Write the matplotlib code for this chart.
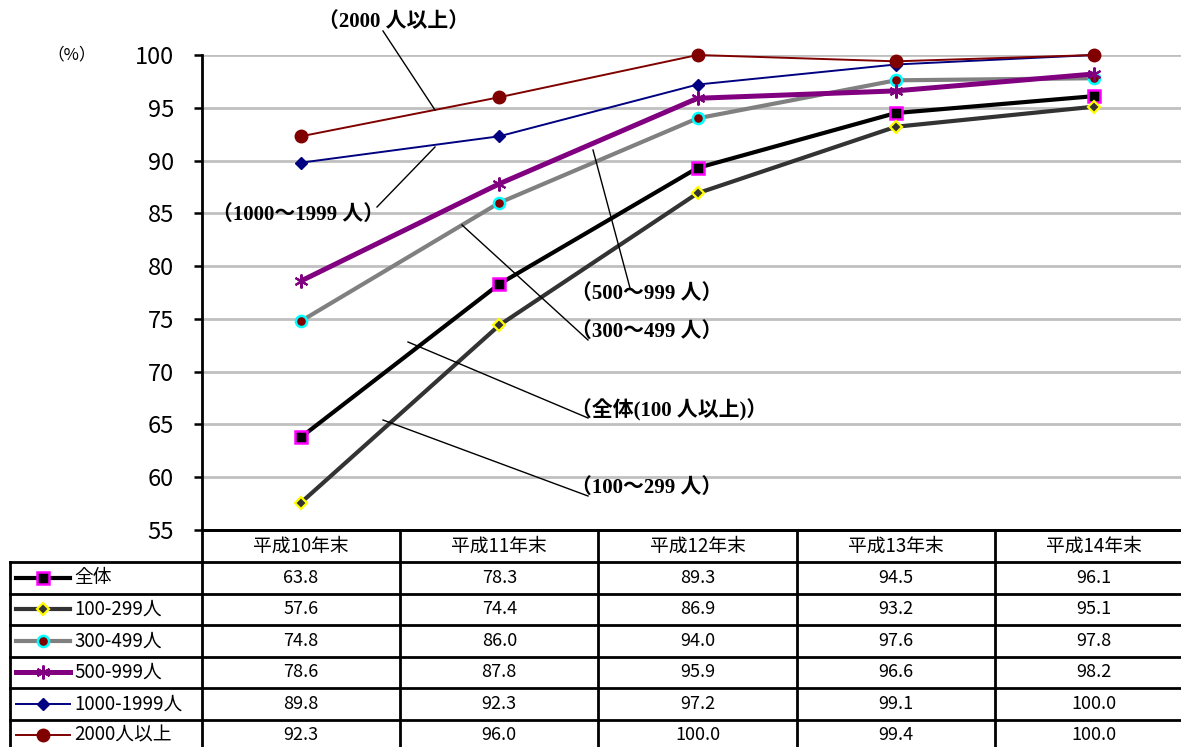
import matplotlib
matplotlib.use('Agg')
import matplotlib.pyplot as plt
import matplotlib.transforms as mtrans

plt.rcParams['font.family'] = ['Noto Sans CJK JP', 'DejaVu Sans']

# ---- data ----
years = ['平成10年末', '平成11年末', '平成12年末', '平成13年末', '平成14年末']
names = ['全体', '100-299人', '300-499人', '500-999人', '1000-1999人', '2000人以上']
zentai = [63.8, 78.3, 89.3, 94.5, 96.1]
s100 = [57.6, 74.4, 86.9, 93.2, 95.1]
s300 = [74.8, 86.0, 94.0, 97.6, 97.8]
s500 = [78.6, 87.8, 95.9, 96.6, 98.2]
s1000 = [89.8, 92.3, 97.2, 99.1, 100.0]
s2000 = [92.3, 96.0, 100.0, 99.4, 100.0]
series = [zentai, s100, s300, s500, s1000, s2000]

styles = [
    dict(color='black', lw=3, marker='s', ms=8, mfc='black', mec='#ff00ff', mew=1.8),
    dict(color='#333333', lw=3, marker='D', ms=6, mfc='#333333', mec='#ffff00', mew=1.6),
    dict(color='#808080', lw=3, marker='o', ms=8, mfc='#800000', mec='#00ffff', mew=1.8),
    dict(color='#800080', lw=3.6, marker=(6, 2, 0), ms=10, mfc='#800080', mec='#800080', mew=1.5),
    dict(color='#000080', lw=1.4, marker='D', ms=6.5, mfc='#000080', mec='#000080', mew=1),
    dict(color='#800000', lw=1.4, marker='o', ms=9, mfc='#800000', mec='#800000', mew=1),
]

W, H = 1181, 747
fig = plt.figure(figsize=(W / 100, H / 100), dpi=100)

# chart area in pixels: x 202..1193, y 55..530
ax = fig.add_axes([202 / W, 1 - 530 / H, (1193 - 202) / W, (530 - 55) / H])
x = list(range(len(years)))
for vals, st in zip(series, styles):
    ax.plot(x, vals, zorder=3, clip_on=False, **st)

ax.set_xlim(-0.5, 4.5)
ax.set_ylim(55, 100)
ax.set_yticks(range(55, 101, 5))
ax.tick_params(axis='y', direction='out', length=6, width=1.8, labelsize=17, pad=14)
ax.set_xticks([])
ax.yaxis.grid(True, color='#c0c0c0', lw=2)
ax.set_axisbelow(True)
for sp in ['top', 'right']:
    ax.spines[sp].set_visible(False)
ax.spines['left'].set_linewidth(2)
ax.spines['bottom'].set_linewidth(2)
fig.text(72 / W, 1 - 55 / H, '（%）', ha='center', va='center', fontsize=12)

# ---- annotation labels with leader lines (pixel coords) ----
ov = fig.add_axes([0, 0, 1, 1], zorder=5)
ov.set_xlim(0, W)
ov.set_ylim(H, 0)
ov.axis('off')
ov.patch.set_alpha(0)

lab_font = dict(family=['Liberation Serif', 'Noto Sans CJK JP'], fontweight='bold', fontsize=15)
labels = [
    ('（2000 人以上）', 318, 22, [(383, 31), (435, 110)]),
    ('（1000～1999 人）', 212, 215, [(377, 207), (435, 147)]),
    ('（500～999 人）', 571, 294, [(630, 288), (593, 150)]),
    ('（300～499 人）', 571, 332, [(588, 340), (462, 225)]),
    ('（全体(100 人以上)）', 571, 410, [(588, 418), (408, 342)]),
    ('（100～299 人）', 571, 488, [(588, 496), (383, 420)]),
]
for txt, tx, ty, pts in labels:
    ov.text(tx, ty, txt, ha='left', va='center', **lab_font)
    ov.plot([pts[0][0], pts[1][0]], [pts[0][1], pts[1][1]], color='black', lw=1)

# ---- data table below the chart ----
tb = fig.add_axes([0, 0, 1, 1], zorder=4)
tb.set_xlim(0, W)
tb.set_ylim(H, 0)
tb.axis('off')
tb.patch.set_alpha(0)
blend = mtrans.blended_transform_factory(ax.transData, tb.transData)

row_y = [530, 562, 593.5, 625, 656.5, 688, 719.5, 751]
tb.plot([202, 1193], [530, 530], color='black', lw=2, clip_on=False)
for yy in row_y[1:]:
    tb.plot([10, 1193], [yy, yy], color='black', lw=2, clip_on=False)
tb.plot([10, 10], [row_y[1], row_y[-1]], color='black', lw=2)
for i in range(len(years) + 1):
    tb.plot([i - 0.5, i - 0.5], [530, 751], color='black', lw=2, transform=blend)

for i, yr in enumerate(years):
    tb.text(i, (row_y[0] + row_y[1]) / 2, yr, transform=blend, ha='center', va='center', fontsize=13.5)

for r, (nm, vals, st) in enumerate(zip(names, series, styles)):
    yc = (row_y[r + 1] + row_y[r + 2]) / 2
    for i, v in enumerate(vals):
        tb.text(i, yc, f'{v:.1f}', transform=blend, ha='center', va='center', fontsize=13)
    tb.plot([16, 70], [yc, yc], color=st['color'], lw=st['lw'])
    tb.plot([43], [yc], linestyle='none', marker=st['marker'], ms=st['ms'],
            mfc=st['mfc'], mec=st['mec'], mew=st['mew'])
    tb.text(74, yc, nm, ha='left', va='center', fontsize=13.5)

fig.savefig('out.png', dpi=100)
